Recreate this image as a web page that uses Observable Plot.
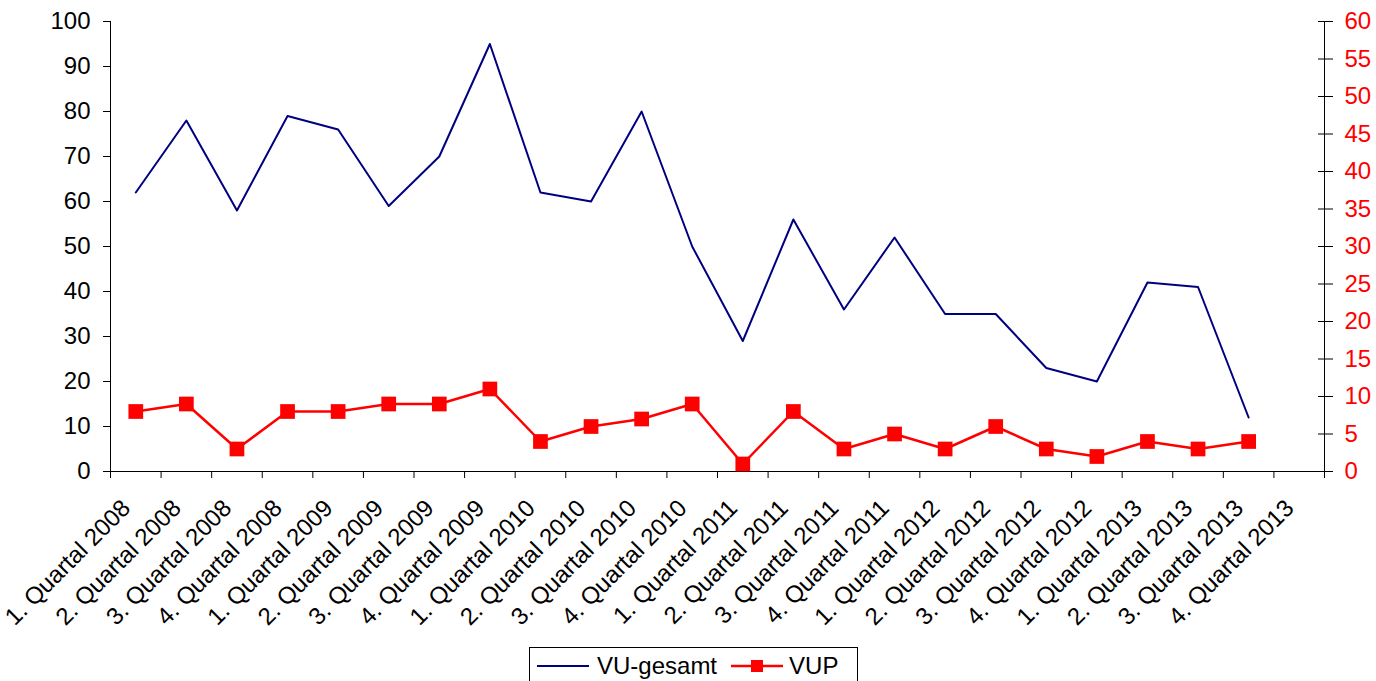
<!DOCTYPE html>
<html>
<head>
<meta charset="utf-8">
<script src="https://cdn.jsdelivr.net/npm/d3@7"></script>
<script src="https://cdn.jsdelivr.net/npm/@observablehq/plot@0.6"></script>
<style>
  html, body { margin: 0; padding: 0; background: #fff; }
  body { font-family: "Liberation Sans", Arial, sans-serif; }
  #wrap { position: relative; width: 1376px; height: 681px; overflow: hidden; }
  #legend {
    position: absolute; left: 529px; top: 647px; width: 327px; height: 44px;
    border: 1px solid #000; box-sizing: content-box;
    display: flex; align-items: flex-start; font-size: 24px; color: #000;
  }
  #legend .item { display: flex; align-items: center; height: 36px; }
  #legend svg { display: block; }
</style>
</head>
<body>
<div id="wrap">
  <div id="chart"></div>
  <div id="legend">
    <div class="item" style="margin-left:7px">
      <svg width="52" height="20"><line x1="0" x2="52" y1="10" y2="10" stroke="#000080" stroke-width="2"/></svg>
      <span style="margin-left:8px">VU-gesamt</span>
    </div>
    <div class="item" style="margin-left:14px">
      <svg width="52" height="20"><line x1="0" x2="52" y1="10" y2="10" stroke="#FF0000" stroke-width="2.5"/><rect x="20" y="4" width="12" height="12" fill="#FF0000"/></svg>
      <span style="margin-left:6px">VUP</span>
    </div>
  </div>
</div>
<script>
const categories = [
  "1. Quartal 2008", "2. Quartal 2008", "3. Quartal 2008", "4. Quartal 2008",
  "1. Quartal 2009", "2. Quartal 2009", "3. Quartal 2009", "4. Quartal 2009",
  "1. Quartal 2010", "2. Quartal 2010", "3. Quartal 2010", "4. Quartal 2010",
  "1. Quartal 2011", "2. Quartal 2011", "3. Quartal 2011", "4. Quartal 2011",
  "1. Quartal 2012", "2. Quartal 2012", "3. Quartal 2012", "4. Quartal 2012",
  "1. Quartal 2013", "2. Quartal 2013", "3. Quartal 2013", "4. Quartal 2013"
];
const vuGesamt = [62, 78, 58, 79, 76, 59, 70, 95, 62, 60, 80, 50, 29, 56, 36, 52, 35, 35, 23, 20, 42, 41, 12];
const vup = [8, 9, 3, 8, 8, 9, 9, 11, 4, 6, 7, 9, 1, 8, 3, 5, 3, 6, 3, 2, 4, 3, 4];
const leftTicks = d3.range(0, 101, 10);
const rightTicks = d3.range(0, 61, 5);
const leftMax = 100, rightMax = 60;
const toLeft = v => v * leftMax / rightMax;

const gesamtData = vuGesamt.map((v, i) => ({i: i + 0.5, v}));
const vupData = vup.map((v, i) => ({i: i + 0.5, v}));
const labelData = categories.map((c, i) => ({i: i + 0.5, c}));
const n = categories.length;

const chart = Plot.plot({
  width: 1376,
  height: 640,
  marginTop: 21,
  marginBottom: 169,
  marginLeft: 110,
  marginRight: 52,
  style: {fontFamily: '"Liberation Sans", Arial, sans-serif', fontSize: "24px", color: "#000", background: "#fff"},
  x: {type: "linear", domain: [0, n], label: null},
  y: {domain: [0, leftMax], label: null},
  marks: [
    // axis lines
    Plot.ruleX([0], {y1: 0, y2: leftMax, stroke: "#000"}),
    Plot.ruleX([n], {y1: 0, y2: leftMax, stroke: "#000"}),
    Plot.ruleY([0], {stroke: "#000"}),
    // left axis
    Plot.axisY(leftTicks, {anchor: "left", label: null, tickSize: 7, tickPadding: 13, stroke: "#000", fill: "#000", fontSize: 24}),
    // right axis ticks (crossing)
    Plot.axisY(rightTicks.map(toLeft), {anchor: "right", label: null, tickSize: 15, dx: -7, tickFormat: () => "", stroke: "#000"}),
    // right axis labels
    Plot.axisY(rightTicks.map(toLeft), {anchor: "right", label: null, tickSize: 0, tickPadding: 20, tickFormat: d => String(Math.round(d * rightMax / leftMax)), fill: "#FF0000", color: "#FF0000", fontSize: 24}),
    // x ticks at category boundaries
    Plot.axisX(d3.range(0, n + 1), {label: null, tickSize: 7, tickFormat: () => "", stroke: "#000"}),
    // x labels
    Plot.text(labelData, {x: "i", y: 0, text: "c", rotate: -45, textAnchor: "end", lineAnchor: "bottom", dx: -4, dy: 38, fontSize: 24, fill: "#000"}),
    // series
    Plot.line(gesamtData, {x: "i", y: "v", stroke: "#000080", strokeWidth: 2}),
    Plot.line(vupData, {x: "i", y: d => toLeft(d.v), stroke: "#FF0000", strokeWidth: 2.5}),
    Plot.dot(vupData, {x: "i", y: d => toLeft(d.v), symbol: "square", r: 8.3, fill: "#FF0000", stroke: "none"})
  ]
});
document.getElementById("chart").appendChild(chart);
</script>
</body>
</html>
